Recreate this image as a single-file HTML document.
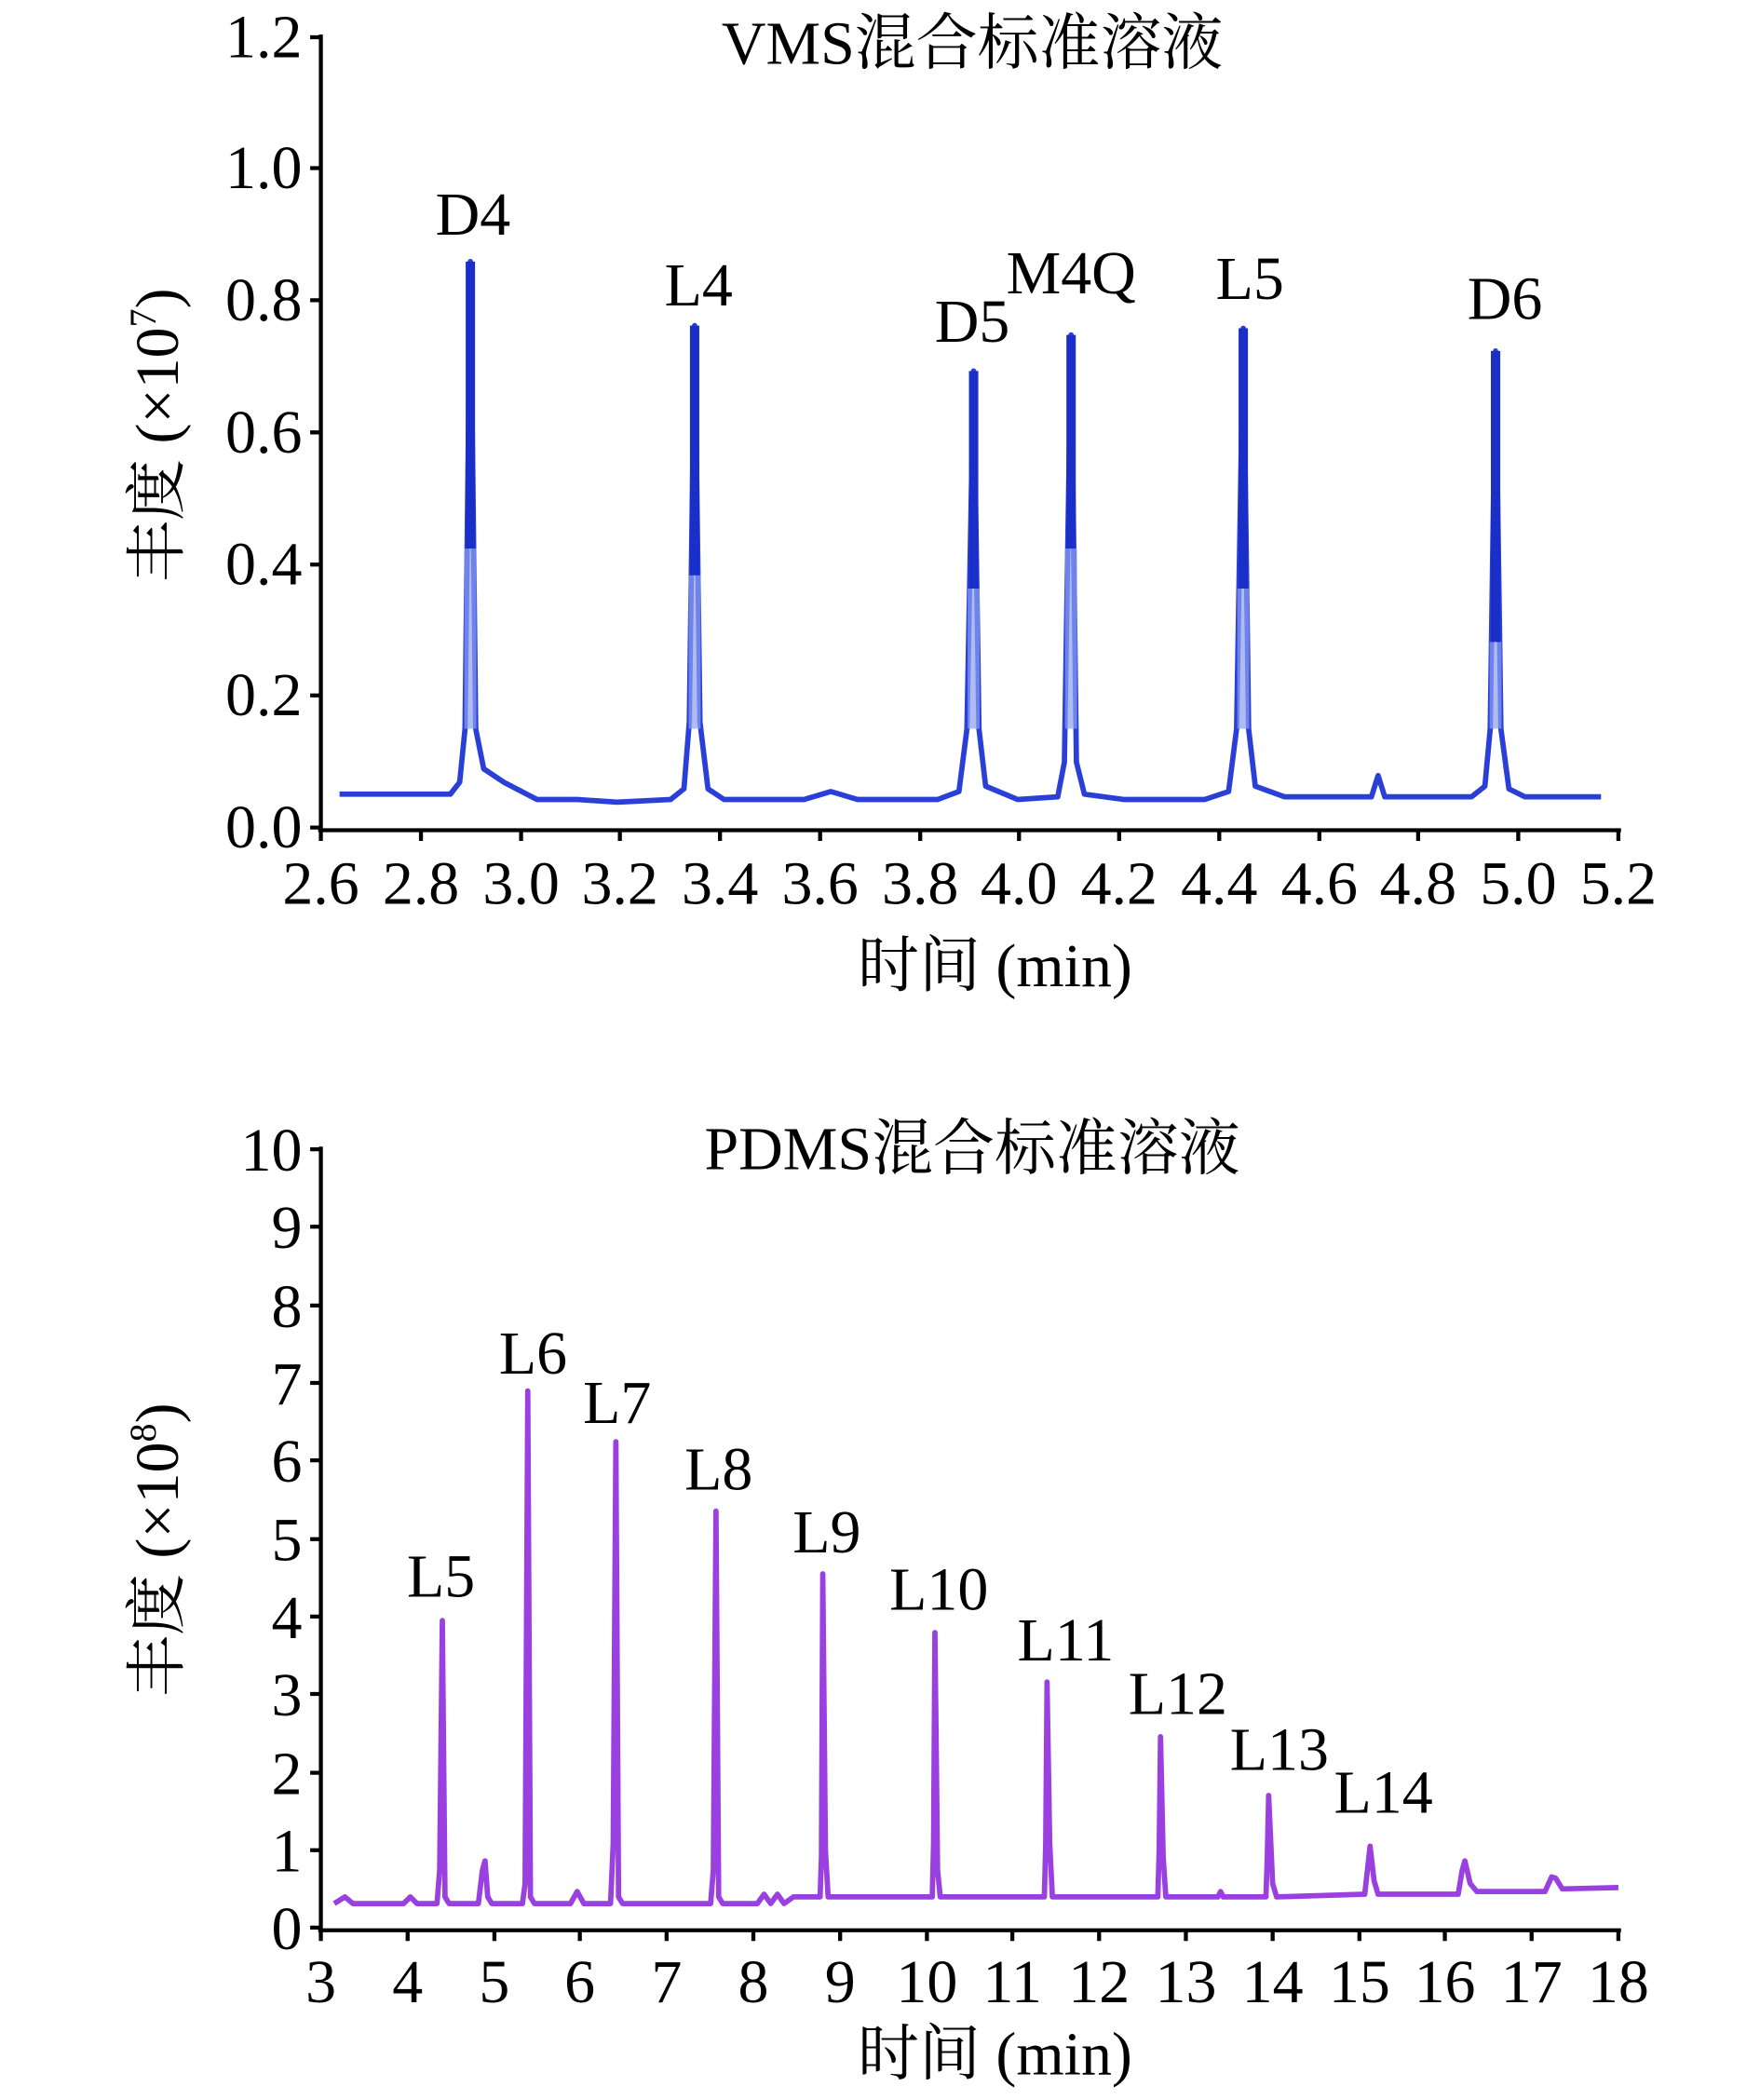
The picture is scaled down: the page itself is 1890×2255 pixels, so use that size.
<!DOCTYPE html>
<html><head><meta charset="utf-8"><style>
html,body{margin:0;padding:0;background:#fff}
svg{display:block}
text{font-family:"Liberation Serif","Noto Serif CJK SC",serif;fill:#000}
</style></head><body>
<svg width="1890" height="2255" viewBox="0 0 1300 1551" preserveAspectRatio="none" xmlns="http://www.w3.org/2000/svg">
<g transform="translate(237,27.5) scale(0.986) translate(-238,-27)">
<!-- TOP CHART -->
<g stroke="#000" stroke-width="3" fill="none">
<line x1="238" y1="25" x2="238" y2="621"/>
<line x1="236" y1="621" x2="1212" y2="621"/>
<path d="M230 27H238M230 125H238M230 224H238M230 323H238M230 422H238M230 520H238M230 619H238"/>
<path d="M238 621v8M313 621v8M388 621v8M462 621v8M537 621v8M612 621v8M687 621v8M761 621v8M836 621v8M911 621v8M986 621v8M1060 621v8M1135 621v8M1210 621v8"/>
</g>
<g font-size="46" text-anchor="end">
<text x="224" y="42">1.2</text><text x="224" y="140">1.0</text><text x="224" y="239">0.8</text>
<text x="224" y="338">0.6</text><text x="224" y="437">0.4</text><text x="224" y="535">0.2</text><text x="224" y="634">0.0</text>
</g>
<g font-size="46" text-anchor="middle">
<text x="238" y="676">2.6</text><text x="313" y="676">2.8</text><text x="388" y="676">3.0</text><text x="462" y="676">3.2</text>
<text x="537" y="676">3.4</text><text x="612" y="676">3.6</text><text x="687" y="676">3.8</text><text x="761" y="676">4.0</text>
<text x="836" y="676">4.2</text><text x="911" y="676">4.4</text><text x="986" y="676">4.6</text><text x="1060" y="676">4.8</text>
<text x="1135" y="676">5.0</text><text x="1210" y="676">5.2</text>
<text x="726" y="47">VMS混合标准溶液</text>
<text x="743" y="738">时间 (min)</text>
<text x="352" y="175">D4</text><text x="521" y="228">L4</text><text x="726" y="255">D5</text>
<text x="800" y="219">M4Q</text><text x="934" y="223">L5</text><text x="1125" y="238">D6</text>
</g>
<text font-size="46" text-anchor="middle" transform="translate(131,325) rotate(-90)">丰度 (×10<tspan font-size="28" dy="-17">7</tspan><tspan dy="17">)</tspan></text>
<g fill="none" stroke="#2a3fd8" stroke-width="4" stroke-linejoin="round">
<path d="M252 594L335 594L342 585L346 545L350 195L354 545L360 575L375 585L400 598L430 598L460 600L500 598L510 590L514 540L518 243L522 540L528 590L540 598L600 598L620 592L640 598L700 598L716 592L722 545L727 277L731 545L736 588L760 598L790 596L795 570L800 250L804 570L810 594L840 598L900 598L918 592L924 545L929 245L933 545L938 588L960 596L1025 596L1030 580L1035 596L1100 596L1110 588L1114 545L1118 262L1122 545L1128 590L1140 596L1197 596"/>
</g>
<g stroke="#8da0f0" stroke-width="9" opacity="0.7">
<path d="M350 410V545M518 430V545M727 440V545M800 410V545M929 440V545M1118 480V545"/>
</g>
<g stroke="#1a2fc8" stroke-width="7">
<path d="M350 195V410M518 243V430M727 277V440M800 250V410M929 245V440M1118 262V480"/>
</g>
<!-- BOTTOM CHART -->
<g stroke="#000" stroke-width="3" fill="none">
<line x1="238" y1="858" x2="238" y2="1445"/>
<line x1="236" y1="1445" x2="1212" y2="1445"/>
<path d="M230 860H238M230 918H238M230 977H238M230 1035H238M230 1093H238M230 1152H238M230 1210H238M230 1268H238M230 1327H238M230 1385H238M230 1443H238"/>
<path d="M238 1445v8M303 1445v8M368 1445v8M432 1445v8M497 1445v8M562 1445v8M627 1445v8M692 1445v8M756 1445v8M821 1445v8M886 1445v8M951 1445v8M1016 1445v8M1080 1445v8M1145 1445v8M1210 1445v8"/>
</g>
<g font-size="46" text-anchor="end">
<text x="224" y="876">10</text><text x="224" y="934">9</text><text x="224" y="993">8</text><text x="224" y="1051">7</text>
<text x="224" y="1109">6</text><text x="224" y="1168">5</text><text x="224" y="1226">4</text><text x="224" y="1284">3</text>
<text x="224" y="1343">2</text><text x="224" y="1401">1</text><text x="224" y="1459">0</text>
</g>
<g font-size="46" text-anchor="middle">
<text x="238" y="1499">3</text><text x="303" y="1499">4</text><text x="368" y="1499">5</text><text x="432" y="1499">6</text>
<text x="497" y="1499">7</text><text x="562" y="1499">8</text><text x="627" y="1499">9</text><text x="692" y="1499">10</text>
<text x="756" y="1499">11</text><text x="821" y="1499">12</text><text x="886" y="1499">13</text><text x="951" y="1499">14</text>
<text x="1016" y="1499">15</text><text x="1080" y="1499">16</text><text x="1145" y="1499">17</text><text x="1210" y="1499">18</text>
<text x="726" y="875">PDMS混合标准溶液</text>
<text x="743" y="1553">时间 (min)</text>
<text x="328" y="1195">L5</text><text x="397" y="1028">L6</text><text x="460" y="1065">L7</text><text x="536" y="1115">L8</text>
<text x="617" y="1162">L9</text><text x="701" y="1205">L10</text><text x="796" y="1243">L11</text><text x="880" y="1283">L12</text>
<text x="956" y="1325">L13</text><text x="1034" y="1357">L14</text>
</g>
<text font-size="46" text-anchor="middle" transform="translate(131,1160) rotate(-90)">丰度 (×10<tspan font-size="28" dy="-17">8</tspan><tspan dy="17">)</tspan></text>
<g fill="none" stroke="#9a40e0" stroke-width="4" stroke-linejoin="round">
<path d="M248 1425L256 1420L262 1425L300 1425L305 1420L310 1425L325 1425L327 1400L329 1213L331 1420L334 1425L356 1425L359 1400L361 1393L363 1420L366 1425L389 1425L391 1410L393 1041L395 1420L398 1425L425 1425L430 1416L435 1425L455 1425L457 1380L459 1079L461 1420L464 1425L530 1425L532 1400L534 1131L536 1420L539 1425L565 1425L570 1418L575 1425L580 1418L585 1425L592 1420L612 1420L613 1390L614 1178L616 1385L618 1420L622 1420L696 1420L697 1380L698 1222L700 1400L702 1420L780 1420L781 1380L782 1259L784 1380L786 1420L865 1420L866 1385L867 1300L869 1390L871 1420L910 1420L912 1416L914 1420L946 1420L947 1390L948 1344L951 1410L954 1420L1020 1418L1022 1400L1024 1382L1027 1408L1030 1418L1090 1418L1093 1400L1095 1393L1099 1410L1104 1416L1155 1416L1160 1405L1163 1406L1168 1414L1210 1413"/>
</g>
</g>
</svg>
</body></html>
